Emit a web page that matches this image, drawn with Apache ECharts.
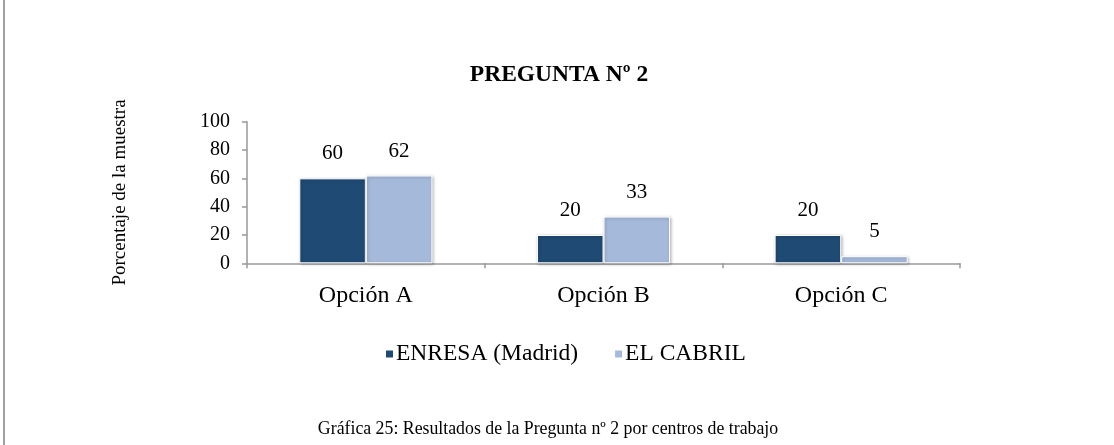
<!DOCTYPE html>
<html>
<head>
<meta charset="utf-8">
<script src="https://cdn.jsdelivr.net/npm/echarts@6/dist/echarts.min.js"></script>
<style>
html,body{margin:0;padding:0;background:#fff;}
#chart{width:1114px;height:445px;}
</style>
</head>
<body>
<div id="chart"></div>
<script>
const categories = ['Opción A', 'Opción B', 'Opción C'];
const seriesNames = ['ENRESA (Madrid)', 'EL CABRIL'];
const enresaValues = [60, 20, 20];
const cabrilValues = [62, 33, 5];
const yTicks = [0, 20, 40, 60, 80, 100];
const titleText = 'PREGUNTA Nº 2';
const yAxisName = 'Porcentaje de la muestra';
const captionText = 'Gráfica 25: Resultados de la Pregunta nº 2 por centros de trabajo';

const font = 'Liberation Serif';
const chart = echarts.init(document.getElementById('chart'));
const barStyle = (color) => ({
  color: color,
  borderColor: '#ffffff',
  borderWidth: 1,
  shadowColor: 'rgba(0,0,0,0.25)',
  shadowBlur: 3,
  shadowOffsetX: 1,
  shadowOffsetY: 1
});
const labelStyle = {
  show: true, position: 'top', distance: 14,
  color: '#000', fontFamily: font, fontSize: 21
};
chart.setOption({
  animation: false,
  backgroundColor: '#fff',
  title: [{
    text: titleText, left: 554, top: 58, textAlign: 'center',
    textStyle: {fontFamily: font, fontSize: 23.5, fontWeight: 'bold', color: '#000'}
  }, {
    text: captionText, left: 543, top: 415, textAlign: 'center',
    textStyle: {fontFamily: font, fontSize: 17.8, fontWeight: 'normal', color: '#000'}
  }],
  legend: {
    data: seriesNames, left: 379, top: 337, itemWidth: 9, itemHeight: 9, itemGap: 35,
    icon: 'rect',
    textStyle: {fontFamily: font, fontSize: 23.5, color: '#000', padding: [0, 0, 7, -3]}
  },
  grid: {left: 247, right: 154, top: 121.7, bottom: 181.7},
  xAxis: {
    type: 'category', data: categories,
    axisLine: {lineStyle: {color: '#999', width: 1.5}},
    axisTick: {show: true, length: 5, lineStyle: {color: '#999', width: 1.5}},
    axisLabel: {fontFamily: font, fontSize: 24, color: '#000', margin: 20}
  },
  yAxis: {
    type: 'value', min: yTicks[0], max: yTicks[yTicks.length-1], interval: yTicks[1]-yTicks[0],
    name: yAxisName, nameLocation: 'middle', nameGap: 117, nameRotate: 90,
    nameTextStyle: {fontFamily: font, fontSize: 19, color: '#000'},
    axisLine: {show: true, lineStyle: {color: '#999', width: 1.5}},
    axisTick: {show: true, length: 5, lineStyle: {color: '#999', width: 1.5}},
    splitLine: {show: false},
    axisLabel: {fontFamily: font, fontSize: 20, color: '#000', margin: 17}
  },
  series: [{
    name: seriesNames[0], type: 'bar', data: enresaValues,
    barGap: '0%', barCategoryGap: '44%',
    itemStyle: barStyle('#1f4a74'), label: labelStyle
  }, {
    name: seriesNames[1], type: 'bar', data: cabrilValues,
    barGap: '0%', barCategoryGap: '44%',
    itemStyle: barStyle('#a5b9da'), label: labelStyle
  }],
  graphic: [{
    type: 'line', shape: {x1: 4, y1: 0, x2: 4, y2: 445},
    style: {stroke: '#a0a0a0', lineWidth: 2}
  }]
});
</script>
</body>
</html>
